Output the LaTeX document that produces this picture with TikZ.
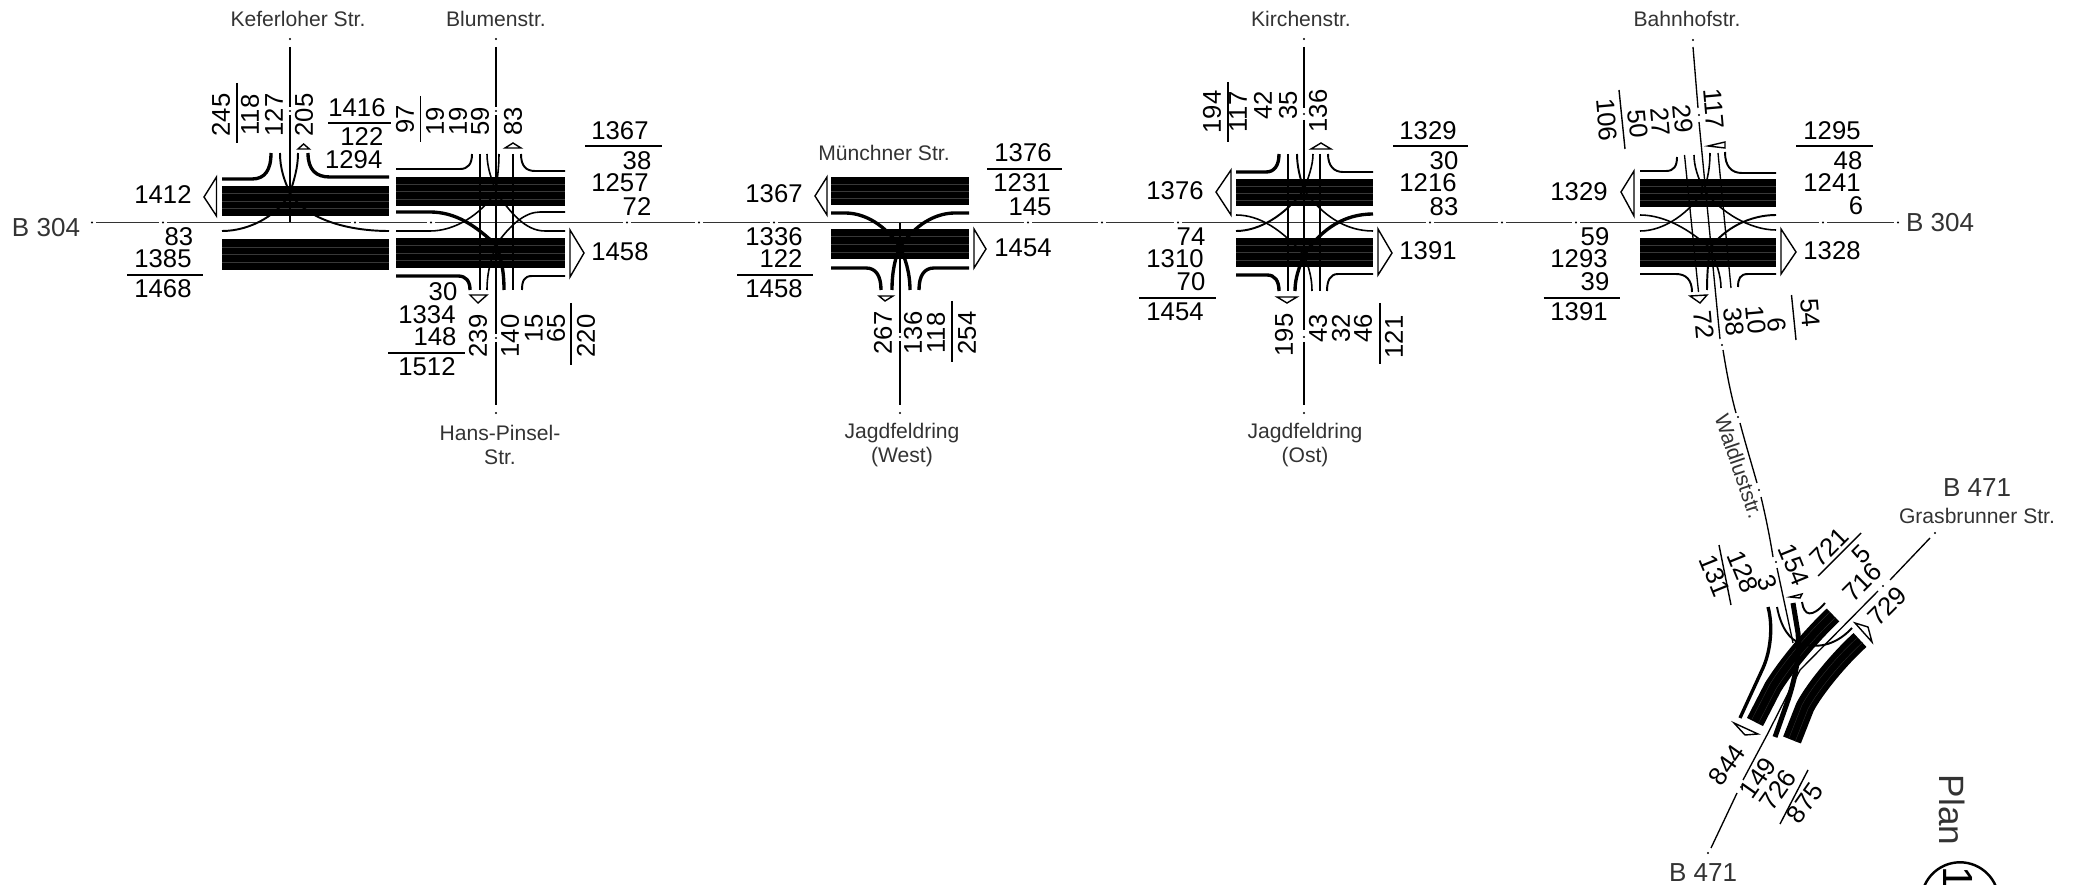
\documentclass[tikz,border=0pt]{standalone}
\usepackage{fontspec}
\setmainfont{Liberation Sans}
\usepackage{tikz}

\begin{document}
\begin{tikzpicture}[
  x=0.01cm, y=-0.01cm,
  num/.style={inner sep=0pt, font=\fontsize{7.3}{8}\selectfont},
  numv/.style={num, rotate=90},
  numr/.style={num, rotate=-85},
  numw/.style={num, rotate=-68},
  numd/.style={num, rotate=45},
  nums/.style={num, rotate=55},
  road/.style={inner sep=0pt, align=center, text=black!80, font=\fontsize{6}{6.9}\selectfont},
  roadbig/.style={inner sep=0pt, text=black!80, font=\fontsize{7.4}{8}\selectfont},
  axis/.style={line width=.38pt, black!80},
  street/.style={line width=.38pt},
  rulel/.style={line width=.4pt},
  curb/.style={line width=.55pt},
  curbb/.style={line width=.95pt},
  lane/.style={line width=.45pt},
  tri/.style={line width=.4pt, fill=white},
  band/.style={fill=black},
  streak/.style={line width=.08pt, black!78},
  dot/.style={circle, fill=black, inner sep=0pt, minimum size=.65pt}
]
\clip (0,0) rectangle (2078,885);

\draw[axis] (96,222.5) -- (159,222.5) (167,222.5) -- (351,222.5) (359,222.5) -- (427,222.5) (435,222.5) -- (623,222.5) (631,222.5) -- (695,222.5) (703,222.5) -- (770,222.5) (778,222.5) -- (1024,222.5) (1032,222.5) -- (1098,222.5) (1106,222.5) -- (1174,222.5) (1182,222.5) -- (1426,222.5) (1434,222.5) -- (1498,222.5) (1506,222.5) -- (1572,222.5) (1580,222.5) -- (1819,222.5) (1827,222.5) -- (1894,222.5);
\node[dot] (a1) at (92,222.5) {};
\node[dot] (a2) at (163,222.5) {};
\node[dot] (a3) at (355,222.5) {};
\node[dot] (a4) at (431,222.5) {};
\node[dot] (a5) at (627,222.5) {};
\node[dot] (a6) at (699,222.5) {};
\node[dot] (a7) at (774,222.5) {};
\node[dot] (a8) at (1028,222.5) {};
\node[dot] (a9) at (1102,222.5) {};
\node[dot] (a10) at (1178,222.5) {};
\node[dot] (a11) at (1430,222.5) {};
\node[dot] (a12) at (1502,222.5) {};
\node[dot] (a13) at (1576,222.5) {};
\node[dot] (a14) at (1823,222.5) {};
\node[dot] (a15) at (1898,222.5) {};

\path[band] (222,186) rectangle (389,216);
\path[band] (222,239) rectangle (389,270);
\draw[streak] (222,193) -- (389,193) (222,201) -- (389,201) (222,208) -- (389,208) (222,247) -- (389,247) (222,254) -- (389,254) (222,262) -- (389,262);
\draw[curbb] (222,179) -- (252,179) .. controls (265,179) and (271,170) .. (271,153);
\draw[curbb] (308,153) .. controls (308,170) and (316,177) .. (330,177) -- (389,177);
\draw[curb] (222,231) .. controls (252,231) and (280,213) .. (290,193) .. controls (284,180) and (280,168) .. (280,153);
\draw[curb] (389,231) .. controls (345,231) and (305,218) .. (290,193) .. controls (294,180) and (298,168) .. (298,153);
\draw[street] (290,47) -- (290,107) (290,115) -- (290,222);
\node[dot] (k1) at (290,39) {};
\node[dot] (k2) at (290,111) {};
\draw[tri] (298,149) -- (303.6,144) -- (309.4,149) -- cycle;
\draw[tri] (216.5,177) -- (204,197) -- (216.5,216) -- cycle;

\path[band] (396,177) rectangle (565,206);
\path[band] (396,238) rectangle (565,268);
\draw[streak] (396,184) -- (565,184) (396,191) -- (565,191) (396,199) -- (565,199) (396,245) -- (565,245) (396,253) -- (565,253) (396,260) -- (565,260);
\draw[curb] (396,169) -- (460,169) .. controls (468,169) and (472,164) .. (472,154);
\draw[curb] (521,154) .. controls (521,166) and (526,171) .. (535,171) -- (565,171);
\draw[curbb] (396,276) -- (458,276) .. controls (466,276) and (470,281) .. (470,290);
\draw[curb] (522,290) .. controls (522,281) and (524,276) .. (532,276) -- (565,276);
\draw[curbb] (396,212) -- (430,212) .. controls (455,212) and (475,225) .. (496,245) .. controls (501,258) and (504,270) .. (504,290);
\draw[lane] (396,231) -- (430,231) .. controls (455,231) and (480,215) .. (496,192) .. controls (492,180) and (487,168) .. (487,154);
\draw[lane] (565,212) -- (540,212) .. controls (525,212) and (510,225) .. (496,245) .. controls (492,258) and (487,270) .. (487,290);
\draw[lane] (565,231) -- (545,231) .. controls (525,231) and (510,212) .. (496,192) .. controls (497,180) and (499,168) .. (499,154);
\draw[street] (480,154) -- (480,290) (513,154) -- (513,290);
\draw[street] (496,47) -- (496,107) (496,115) -- (496,334) (496,342) -- (496,405);
\node[dot] (b1) at (496,39) {};
\node[dot] (b2) at (496,111) {};
\node[dot] (b3) at (496,338) {};
\node[dot] (b4) at (496,413) {};
\draw[tri] (505,148) -- (513,143) -- (521,148) -- cycle;
\draw[tri] (470,295) -- (478,303) -- (487,295) -- cycle;
\draw[tri] (570,230) -- (584,253) -- (570,277) -- cycle;

\path[band] (831,177) rectangle (969,205);
\path[band] (831,229) rectangle (969,259);
\draw[streak] (831,184) -- (969,184) (831,191) -- (969,191) (831,198) -- (969,198) (831,236) -- (969,236) (831,244) -- (969,244) (831,252) -- (969,252);
\draw[curbb] (831,213) -- (845,213) .. controls (865,213) and (885,225) .. (900,247) .. controls (895,258) and (892,272) .. (892,290);
\draw[curbb] (969,213) -- (955,213) .. controls (935,213) and (915,225) .. (900,247) .. controls (905,258) and (910,272) .. (910,290);
\draw[curbb] (831,268) -- (866,268) .. controls (876,268) and (881,276) .. (881,290);
\draw[curbb] (969,268) -- (934,268) .. controls (924,268) and (919,276) .. (919,290);
\draw[street] (900,223) -- (900,333) (900,341) -- (900,405);
\node[dot] (j1) at (900,337) {};
\node[dot] (j2) at (900,413) {};
\draw[tri] (879,296) -- (885,301) -- (893,296) -- cycle;
\draw[tri] (827,177) -- (815,196) -- (827,215) -- cycle;
\draw[tri] (974,229) -- (986,249) -- (974,268) -- cycle;

\path[band] (1236,179) rectangle (1373,206);
\path[band] (1236,238) rectangle (1373,267);
\draw[streak] (1236,186) -- (1373,186) (1236,193) -- (1373,193) (1236,200) -- (1373,200) (1236,245) -- (1373,245) (1236,252) -- (1373,252) (1236,260) -- (1373,260);
\draw[curbb] (1236,172) -- (1266,172) .. controls (1274,172) and (1279,166) .. (1279,154);
\draw[curb] (1328,154) .. controls (1328,166) and (1334,172) .. (1343,172) -- (1373,172);
\draw[curbb] (1236,275) -- (1267,275) .. controls (1275,275) and (1279,281) .. (1279,291);
\draw[curb] (1327,291) .. controls (1327,281) and (1330,274) .. (1338,274) -- (1373,274);
\draw[lane] (1236,215) .. controls (1260,215) and (1282,230) .. (1304,255) .. controls (1309,268) and (1312,278) .. (1312,291);
\draw[curb] (1236,231) .. controls (1260,231) and (1285,215) .. (1304,190) .. controls (1300,178) and (1297,166) .. (1297,154);
\draw[curbb] (1373,214) .. controls (1345,214) and (1322,228) .. (1304,255) .. controls (1299,268) and (1295,278) .. (1295,291);
\draw[lane] (1373,231) .. controls (1345,231) and (1322,215) .. (1304,190) .. controls (1308,178) and (1313,166) .. (1313,154);
\draw[street] (1288,154) -- (1288,291) (1320,154) -- (1320,291);
\draw[street] (1304,47) -- (1304,108) (1304,120) -- (1304,330) (1304,342) -- (1304,405);
\node[dot] (c1) at (1304,39) {};
\node[dot] (c2) at (1304,114) {};
\node[dot] (c3) at (1304,337) {};
\node[dot] (c4) at (1304,413) {};
\draw[tri] (1311,149) -- (1321,143) -- (1331,149) -- cycle;
\draw[tri] (1277,297) -- (1287,303) -- (1297,297) -- cycle;
\draw[tri] (1231,170) -- (1216,192) -- (1231,215) -- cycle;
\draw[tri] (1378,229) -- (1392,253) -- (1378,275) -- cycle;

\path[band] (1640,179) rectangle (1776,207);
\path[band] (1640,238) rectangle (1776,267);
\draw[streak] (1640,186) -- (1776,186) (1640,193) -- (1776,193) (1640,200) -- (1776,200) (1640,245) -- (1776,245) (1640,252) -- (1776,252) (1640,260) -- (1776,260);
\draw[curb] (1640,171) -- (1666,171) .. controls (1674,171) and (1677,166) .. (1677,157);
\draw[curb] (1725,152) .. controls (1725,166) and (1731,173) .. (1742,173) -- (1776,173);
\draw[curb] (1640,274) -- (1676,274) .. controls (1686,274) and (1692,280) .. (1692,292);
\draw[curb] (1738,287) .. controls (1738,279) and (1740,274) .. (1748,274) -- (1776,274);
\draw[lane] (1640,215) .. controls (1665,215) and (1690,230) .. (1710,248) .. controls (1716,262) and (1721,275) .. (1721,288);
\draw[lane] (1640,231) .. controls (1665,231) and (1690,212) .. (1704,190) .. controls (1698,178) and (1694,166) .. (1694,155);
\draw[curb] (1776,215) .. controls (1750,215) and (1725,228) .. (1710,248) .. controls (1708,262) and (1707,276) .. (1707,290);
\draw[lane] (1776,230) .. controls (1750,230) and (1720,212) .. (1704,190) .. controls (1708,178) and (1710,166) .. (1710,153);
\draw[street] (1684.5,155) -- (1698.5,292) (1718,153) -- (1731,288);
\draw[street] (1693,47) -- (1698,108) (1699,122) -- (1720,339) (1723,350) .. controls (1727,375) and (1731,395) .. (1736,413) (1740,423) .. controls (1745,442) and (1751,462) .. (1757,483) (1761,497) .. controls (1766,518) and (1770,538) .. (1773,557) (1777,568) -- (1793,643);
\node[dot] (h1) at (1693,40) {};
\node[dot] (h2) at (1699,115) {};
\node[dot] (h3) at (1722,345) {};
\node[dot] (h4) at (1738,417) {};
\node[dot] (h5) at (1759,490) {};
\node[dot] (h6) at (1776,562) {};
\draw[tri] (1708,146) -- (1725,142) -- (1725,148) -- cycle;
\draw[tri] (1690,296) -- (1707,295) -- (1700,303) -- cycle;
\draw[tri] (1634,171) -- (1621,192) -- (1634,216) -- cycle;
\draw[tri] (1781,229) -- (1796,252) -- (1781,274) -- cycle;

\draw[line width=.18cm] (1833,615) .. controls (1815,632) and (1790,660) .. (1773,687) -- (1755,722);
\draw[streak, shift={(-3,-3)}] (1833,615) .. controls (1815,632) and (1790,660) .. (1773,687) -- (1755,722);
\draw[streak, shift={(3,2)}] (1833,615) .. controls (1815,632) and (1790,660) .. (1773,687) -- (1755,722);
\draw[line width=.19cm] (1860,640) .. controls (1840,658) and (1815,688) .. (1805,707) -- (1792,740);
\draw[streak, shift={(-3,-2)}] (1860,640) .. controls (1840,658) and (1815,688) .. (1805,707) -- (1792,740);
\draw[streak, shift={(3,2)}] (1860,640) .. controls (1840,658) and (1815,688) .. (1805,707) -- (1792,740);
\draw[line width=.05cm] (1793,603) -- (1798,633) .. controls (1800,655) and (1795,680) .. (1787,703) -- (1775,737);
\draw[curbb] (1768,607) .. controls (1773,625) and (1771,650) .. (1763,668) -- (1740,718);
\draw[curb] (1777,607) .. controls (1781,628) and (1790,640) .. (1800,643) .. controls (1820,650) and (1838,643) .. (1852,628);
\draw[curb] (1802,602) .. controls (1804,616) and (1812,618) .. (1825,603);
\draw[street] (1930,538) -- (1890,580) (1878,591) -- (1800,670) -- (1767,735) -- (1743,780) (1737,793) -- (1711,848);
\node[dot] (g1) at (1935,533) {};
\node[dot] (g2) at (1883,586) {};
\node[dot] (g3) at (1741,787) {};
\node[dot] (g4) at (1708,853) {};
\draw[tri] (1790,597) -- (1802,594) -- (1800,598) -- cycle;
\draw[tri] (1855,623) -- (1868,627) -- (1872,642) -- cycle;
\draw[tri] (1734,723) -- (1758,734) -- (1745,735) -- cycle;

\draw[rulel] (237,83) -- (237,143);
\draw[rulel] (328,123) -- (391,123);
\draw[rulel] (420.5,96) -- (420.5,142);
\draw[rulel] (127,275) -- (203,275);
\draw[rulel] (388,353) -- (465,353);
\draw[rulel] (571,303) -- (571,365);
\draw[rulel] (585,146) -- (662,146);
\draw[rulel] (987,169) -- (1062,169);
\draw[rulel] (737,275) -- (813,275);
\draw[rulel] (952,301) -- (952,362);
\draw[rulel] (1228,82) -- (1228,142);
\draw[rulel] (1393,146) -- (1468,146);
\draw[rulel] (1139,298) -- (1216,298);
\draw[rulel] (1380,303) -- (1380,364);
\draw[rulel] (1619,90) -- (1625,149);
\draw[rulel] (1796,146) -- (1873,146);
\draw[rulel] (1543.5,298) -- (1620,298);
\draw[rulel] (1791.5,295) -- (1796,340);
\draw[rulel] (1719,545) -- (1731,605);
\draw[rulel] (1818,576) -- (1861,533);
\draw[rulel] (1808,770) -- (1780,824);

\node[roadbig] (west) at (46,228) {B 304};
\node[roadbig] (east) at (1940,223) {B 304};
\node[road] (keferloher) at (298,19) {Keferloher Str.};
\node[road] (blumen) at (496,19) {Blumenstr.};
\node[road] (hanspinsel) at (500,445) {Hans-Pinsel-\\Str.};
\node[road] (muenchner) at (884,153) {Münchner Str.};
\node[road] (jagdwest) at (902,445) {Jagdfeldring\\(West)};
\node[road] (kirchen) at (1301,19) {Kirchenstr.};
\node[road] (jagdost) at (1305,445) {Jagdfeldring\\(Ost)};
\node[road] (bahnhof) at (1687,19) {Bahnhofstr.};
\node[road, rotate=-71] (waldlust) at (1739,466) {Waldluststr.};
\node[roadbig] (b471top) at (1977,488) {B 471};
\node[road] (grasbrunner) at (1977,516) {Grasbrunner Str.};
\node[roadbig] (b471bot) at (1703,873) {B 471};
\node[inner sep=0pt, text=black!80, font=\fontsize{10}{11}\selectfont, rotate=-90] (plan) at (1952,810) {Plan};
\draw[line width=.7pt] (1960,901) circle[radius=38.7];
\node[inner sep=0pt, font=\fontsize{12}{13}\selectfont, rotate=-90] (planno) at (1958,878) {1};

\node[numv] (k245) at (221,115) {245};
\node[numv] (k118) at (250,115) {118};
\node[numv] (k127) at (274,115) {127};
\node[numv] (k205) at (304,115) {205};
\node[num] (r1416) at (357,108) {1416};
\node[num, anchor=east] (r122) at (384,137) {122};
\node[num, anchor=east] (r1294) at (383,160) {1294};
\node[numv] (b97) at (405,119) {97};
\node[numv] (b19a) at (435,121) {19};
\node[numv] (b19b) at (458,121) {19};
\node[numv] (b59) at (480,121) {59};
\node[numv] (b83) at (513,121) {83};
\node[num] (l1412) at (163,195) {1412};
\node[num] (l83) at (179,237) {83};
\node[num] (l1385) at (163,259) {1385};
\node[num] (l1468) at (163,289) {1468};
\node[num] (m30) at (443,292) {30};
\node[num] (m1334) at (427,315) {1334};
\node[num] (m148) at (435,337) {148};
\node[num] (m1512) at (427,367) {1512};
\node[numv] (h239) at (478,336) {239};
\node[numv] (h140) at (510,336) {140};
\node[numv] (h15) at (534,328) {15};
\node[numv] (h65) at (556,328) {65};
\node[numv] (h220) at (586,336) {220};
\node[num] (e1367) at (620,131) {1367};
\node[num] (e38) at (637,161) {38};
\node[num] (e1257) at (620,183) {1257};
\node[num] (e72) at (637,207) {72};
\node[num] (e1458) at (620,252) {1458};

\node[num] (w1367) at (774,194) {1367};
\node[num] (w1336) at (774,237) {1336};
\node[num] (w122) at (781,259) {122};
\node[num] (w1458) at (774,289) {1458};
\node[num] (o1376) at (1023,153) {1376};
\node[num] (o1231) at (1022,183) {1231};
\node[num] (o145) at (1030,207) {145};
\node[num] (o1454) at (1023,248) {1454};
\node[numv] (j267) at (883,333) {267};
\node[numv] (j136) at (913,333) {136};
\node[numv] (j118) at (936,333) {118};
\node[numv] (j254) at (967,333) {254};

\node[numv] (c194) at (1212,112) {194};
\node[numv] (c117) at (1238,112) {117};
\node[numv] (c42) at (1263,105) {42};
\node[numv] (c35) at (1288,105) {35};
\node[numv] (c136) at (1318,111) {136};
\node[num] (x1329) at (1428,131) {1329};
\node[num] (x30) at (1444,161) {30};
\node[num] (x1216) at (1428,183) {1216};
\node[num] (x83) at (1444,207) {83};
\node[num] (x1391) at (1428,251) {1391};
\node[num] (y1376) at (1175,191) {1376};
\node[num] (y74) at (1191,237) {74};
\node[num] (y1310) at (1175,259) {1310};
\node[num] (y70) at (1191,282) {70};
\node[num] (y1454) at (1175,312) {1454};
\node[numv] (s195) at (1284,335) {195};
\node[numv] (s43) at (1318,328) {43};
\node[numv] (s32) at (1341,328) {32};
\node[numv] (s46) at (1363,328) {46};
\node[numv] (s121) at (1394,337) {121};

\node[numr] (t117) at (1714,109) {117};
\node[numr] (t29) at (1683,119) {29};
\node[numr] (t27) at (1660.5,122) {27};
\node[numr] (t50) at (1638,124) {50};
\node[numr] (t106) at (1607,120) {106};
\node[num] (u1329) at (1579,192) {1329};
\node[num] (u59) at (1595,237) {59};
\node[num] (u1293) at (1579,259) {1293};
\node[num] (u39) at (1595,282) {39};
\node[num] (u1391) at (1579,312) {1391};
\node[num] (v1295) at (1832,131) {1295};
\node[num] (v48) at (1848,161) {48};
\node[num] (v1241) at (1832,183) {1241};
\node[num] (v6) at (1856,206) {6};
\node[num] (v1328) at (1832,251) {1328};
\node[numr] (z72) at (1704,325) {72};
\node[numr] (z38) at (1734,322) {38};
\node[numr] (z10) at (1756,320) {10};
\node[numr] (z6) at (1777,325) {6};
\node[numr] (z54) at (1810,313) {54};

\node[numw] (w154) at (1794,565) {154};
\node[numw] (w3) at (1767,583) {3};
\node[numw] (w128) at (1743,572) {128};
\node[numw] (w131) at (1715,576) {131};
\node[numd] (d721) at (1829,547) {721};
\node[numd] (d5) at (1861,554) {5};
\node[numd] (d716) at (1862,582) {716};
\node[numd] (d729) at (1887,606) {729};
\node[nums] (q844) at (1727,765) {844};
\node[nums] (q149) at (1758,778) {149};
\node[nums] (q726) at (1778,790) {726};
\node[nums] (q875) at (1805,803) {875};
\end{tikzpicture}
\end{document}
